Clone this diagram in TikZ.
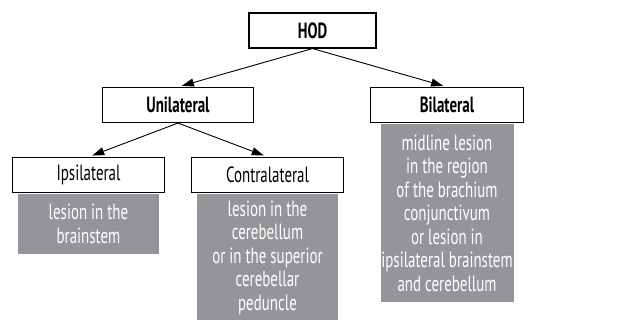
\documentclass[tikz,border=0pt]{standalone}
\usepackage{fontspec}
\setmainfont[FakeStretch=0.68]{PT Sans}
\usepackage{tikz}
\usetikzlibrary{arrows.meta}
\usetikzlibrary{positioning}
\definecolor{lesiongray}{RGB}{147,149,152}

\begin{document}
\begin{tikzpicture}[x=1pt,y=1pt,
  every node/.style={font=\fontsize{22}{23.5}\selectfont},
  kind/.style={rectangle,draw,line width=1.1pt,fill=white,minimum height=35pt,inner sep=2pt},
  lesion/.style={rectangle,fill=lesiongray,text=white,align=center,inner sep=0pt},
  edge from parent/.style={draw,line width=0.9pt,-{Triangle[length=12pt,width=8pt]},shorten >=4pt},
  edge from parent path={(\tikzparentnode.south) -- (\tikzchildnode.north)},
  level 1/.style={level distance=74.5pt,sibling distance=269pt},
  level 2/.style={level distance=70pt,sibling distance=179pt}]
\useasboundingbox (0,0) rectangle (617,-320);
\node[kind,minimum width=127pt,font=\fontsize{22}{23.5}\selectfont\bfseries] (hod) at (312.5,-30.5) {HOD}
  child{node[kind,minimum width=151pt,font=\fontsize{22}{23.5}\selectfont\bfseries] (uni) {Unilateral}
    child{node[kind,minimum width=152pt] (ipsi) {Ipsilateral}}
    child{node[kind,minimum width=152pt] (contra) {Contralateral}}}
  child{node[kind,minimum width=153pt,font=\fontsize{22}{23.5}\selectfont\bfseries] (bi) {Bilateral}};
% gray boxes under the kinds
\node[lesion,below=0.6pt of ipsi,minimum width=141pt,minimum height=60pt] (ipsitext)
  {lesion in the\\brainstem};
\node[lesion,below=0.6pt of contra,minimum width=141pt,minimum height=128pt] (contratext)
  {lesion in the\\cerebellum\\or in the superior\\cerebellar\\peduncle};
\node[lesion,below=0.6pt of bi,minimum width=133pt,minimum height=178pt] (bitext)
  {midline lesion\\in the region\\of the brachium\\conjunctivum\\or lesion in\\ipsilateral brainstem\\and cerebellum};
\end{tikzpicture}
\end{document}
